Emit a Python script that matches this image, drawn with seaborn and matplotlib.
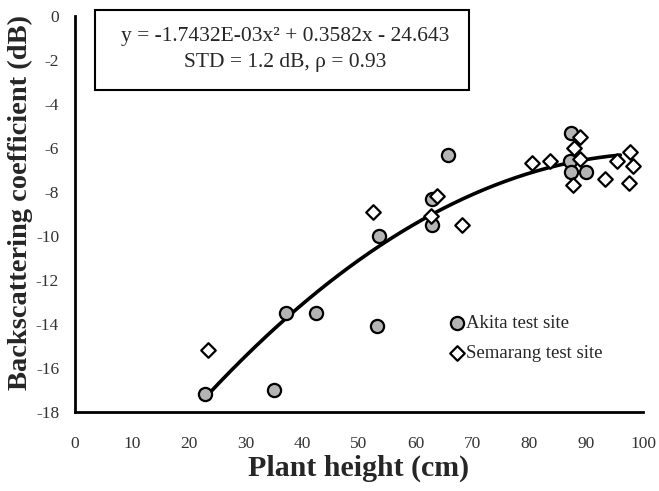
import numpy as np
import pandas as pd
import matplotlib
matplotlib.use("Agg")
import matplotlib.pyplot as plt
from matplotlib.patches import Rectangle
import seaborn as sns

# Akita test site measurements
akita_height = [22.9, 35.0, 37.1, 42.4, 53.2, 53.5, 62.9, 62.9, 65.7,
                87.3, 87.1, 87.3, 90.0]
akita_sigma = [-17.2, -17.0, -13.5, -13.5, -14.1, -10.0, -9.5, -8.3, -6.3,
               -5.3, -6.6, -7.1, -7.1]

# Semarang test site measurements
semarang_height = [23.4, 52.5, 62.7, 63.7, 68.1, 80.5, 83.6, 87.7, 87.9,
                   88.9, 88.9, 93.3, 95.4, 97.7, 98.3, 97.6]
semarang_sigma = [-15.2, -8.9, -9.1, -8.2, -9.5, -6.7, -6.6, -7.7, -6.0,
                  -5.5, -6.5, -7.4, -6.6, -6.2, -6.8, -7.6]

# Quadratic regression coefficients
fit_a, fit_b, fit_c = -1.7432e-03, 0.3582, -24.643
fit_range = (23.0, 96.0)

x_ticks = list(range(0, 101, 10))
y_ticks = list(range(-18, 1, 2))

sites = ["Akita test site", "Semarang test site"]

df = pd.DataFrame({
    "height": akita_height + semarang_height,
    "sigma": akita_sigma + semarang_sigma,
    "site": [sites[0]] * len(akita_height) + [sites[1]] * len(semarang_height),
})

xs = np.linspace(*fit_range, 200)
fit_df = pd.DataFrame({"height": xs, "sigma": fit_a * xs**2 + fit_b * xs + fit_c})

sns.set_style("white")
plt.rcParams["font.family"] = ["Liberation Serif", "DejaVu Serif"]
plt.rcParams["axes.unicode_minus"] = False

fig = plt.figure(figsize=(6.59, 4.91), dpi=100)
ax = fig.add_axes([0.1138, 0.1609, 0.862, 0.8065])

sns.lineplot(data=fit_df, x="height", y="sigma", color="black", linewidth=2.6,
             ax=ax, zorder=2)

sns.scatterplot(data=df[df.site == sites[0]], x="height", y="sigma",
                marker="o", s=90, color="#b4b4b4", edgecolor="black",
                linewidth=1.6, ax=ax, zorder=3, label=sites[0])
sns.scatterplot(data=df[df.site == sites[1]], x="height", y="sigma",
                marker="D", s=55, color="white", edgecolor="black",
                linewidth=1.6, ax=ax, zorder=3, label=sites[1])

ax.set_xlim(0, 100)
ax.set_ylim(-18, 0)
ax.set_xticks(x_ticks)
ax.set_yticks(y_ticks)
ax.tick_params(direction="inout", length=13, width=1.6, labelsize=12.5,
               labelcolor="#333333", pad=5)
ax.tick_params(axis="x", pad=11)
for side in ("top", "right"):
    ax.spines[side].set_visible(False)
for side in ("left", "bottom"):
    ax.spines[side].set_linewidth(2.0)
    ax.spines[side].set_color("black")
for s in ax.spines.values():
    s.set_clip_on(False)

ax.set_xlabel("Plant height (cm)", fontsize=21.5, fontweight="bold", labelpad=2)
ax.set_ylabel("Backscattering coefficient (dB)", fontsize=20.5,
              fontweight="bold", labelpad=0)
ax.yaxis.set_label_coords(-0.074, 0.53)

leg = ax.legend(loc="upper left", bbox_to_anchor=(0.646, 0.265), frameon=False,
                fontsize=13.5, handletextpad=0.1, borderaxespad=0,
                labelspacing=0.7, handlelength=0.8)

# Regression equation box
box = Rectangle((95 / 659, 1 - 90 / 491), (469 - 95) / 659, 80 / 491,
                transform=fig.transFigure, fill=True, facecolor="white",
                edgecolor="black", linewidth=1.5, zorder=5)
fig.patches.append(box)
fig.text(285 / 659, 1 - 37 / 491,
         "y = -1.7432E-03x\u00b2 + 0.3582x - 24.643",
         ha="center", va="center", fontsize=15.5, zorder=6)
fig.text(285 / 659, 1 - 62 / 491, "STD = 1.2 dB, \u03c1 = 0.93",
         ha="center", va="center", fontsize=15.5, zorder=6)

fig.savefig("out.png", dpi=100)
